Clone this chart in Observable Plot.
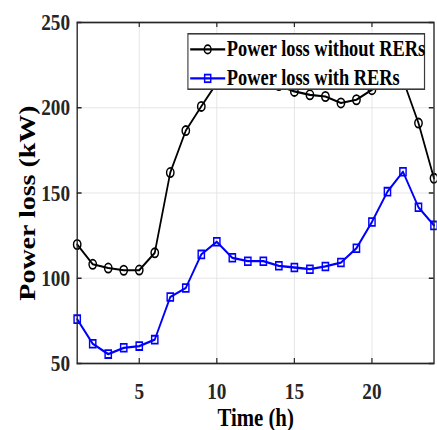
<!DOCTYPE html>
<html><head><meta charset="utf-8">
<script src="https://cdn.jsdelivr.net/npm/d3@7"></script>
<script src="https://cdn.jsdelivr.net/npm/@observablehq/plot@0.6"></script>
<style>
html,body{margin:0;padding:0;overflow:hidden;background:#fff;}
#wrap{position:relative;width:546px;height:430px;transform:scaleX(0.8);transform-origin:0 0;}
#legend{position:absolute;left:234px;top:33px;}
</style></head><body><div id="wrap"></div>
<script>
const hours = [1,2,3,4,5,6,7,8,9,10,11,12,13,14,15,16,17,18,19,20,21,22,23,24];
const lossWithout = [119.8,108.2,106,104.7,104.8,114.9,162,186.6,200.8,214.5,215,215,214,213,209.6,207.6,206.6,202.8,204.7,210.6,215,216.5,191,158.6];
const lossWith = [76,61.6,55.5,59.2,60.2,64,89,94.3,114,121.4,112,110,110,107.3,106.3,105.3,106.9,109.2,117.6,133,150.8,162.5,141.6,131];
const xTicks = [5,10,15,20];
const yTicks = [50,100,150,200,250];
const seriesNames = ["Power loss without RERs","Power loss with RERs"];
const xLabel = "Time (h)";
const yLabel = "Power loss (kW)";

const W=546,H=430,ML=96,MR=4,MT=22,MB=67;
const innerW=W-ML-MR, innerH=H-MT-MB;
const font = "'Liberation Serif','Times New Roman',serif";
const ink="#262626";
const blue="#0000ff";
const rowsA = hours.map((h,i)=>({h, v: lossWithout[i]}));
const rowsB = hours.map((h,i)=>({h, v: lossWith[i]}));

const chart = Plot.plot({
  width: W, height: H, marginLeft: ML, marginRight: MR, marginTop: MT, marginBottom: MB,
  style: {fontFamily: font, fontWeight: "bold", background: "white", color: "#262626"},
  x: {domain: [1,24], label: null},
  y: {domain: [50,250], label: null},
  marks: [
    Plot.gridX({ticks: xTicks, stroke: "#e2e2e2", strokeOpacity: 1, strokeWidth: 1}),
    Plot.gridY({ticks: yTicks.slice(1,-1), stroke: "#e2e2e2", strokeOpacity: 1, strokeWidth: 1}),
    Plot.line(rowsA, {x: "h", y: "v", stroke: "black", strokeWidth: 2.2}),
    Plot.dot(rowsA, {x: "h", y: "v", r: 4.6, stroke: "black", strokeWidth: 1.8, fill: "none"}),
    Plot.line(rowsB, {x: "h", y: "v", stroke: blue, strokeWidth: 2.3}),
    Plot.dot(rowsB, {x: "h", y: "v", symbol: "square", r: 4.4, stroke: blue, strokeWidth: 1.8, fill: "none"}),
    Plot.frame({stroke: ink, strokeWidth: 1.7}),
    Plot.tickX(xTicks, {x: d => d, insetTop: innerH - 5, stroke: ink, strokeWidth: 1.5}),
    Plot.tickX(xTicks, {x: d => d, insetBottom: innerH - 5, stroke: ink, strokeWidth: 1.5}),
    Plot.tickY(yTicks, {y: d => d, insetRight: innerW - 6, stroke: ink, strokeWidth: 1.5}),
    Plot.tickY(yTicks, {y: d => d, insetLeft: innerW - 6, stroke: ink, strokeWidth: 1.5}),
    Plot.axisX({ticks: xTicks, tickSize: 0, tickPadding: 18, fontSize: 24, label: null, fill: ink}),
    Plot.axisY({ticks: yTicks, tickSize: 0, tickPadding: 9, fontSize: 24, label: null, fill: ink}),
    Plot.text([xLabel], {frameAnchor: "bottom", textAnchor: "middle", lineAnchor: "middle", dy: 54, fontSize: 26, fontWeight: "bold", fill: "black"}),
    Plot.text([yLabel], {frameAnchor: "left", textAnchor: "middle", lineAnchor: "middle", rotate: -90, dx: -62, dy: 10, fontSize: 28, fontWeight: "bold", fill: "black"})
  ]
});
const wrap = document.getElementById("wrap");
wrap.appendChild(chart);

// legend
const LW = 297.5, LH = 57;
const lg = d3.create("svg").attr("id","legend").attr("width", LW).attr("height", LH)
  .style("font-family", font).style("font-weight","bold");
lg.append("rect").attr("x",0.8).attr("y",0.8).attr("width",LW-1.6).attr("height",LH-1.6)
  .attr("fill","white").attr("stroke","#3a3a3a").attr("stroke-width",1.6);
const rowsY = [16.4, 45.4];
const colors = ["black", blue];
seriesNames.forEach((name, i) => {
  const g = lg.append("g");
  g.append("line").attr("x1",3.75).attr("x2",47.5).attr("y1",rowsY[i]).attr("y2",rowsY[i])
    .attr("stroke",colors[i]).attr("stroke-width",2.3);
  if (i === 0) {
    g.append("circle").attr("cx",25.6).attr("cy",rowsY[i]).attr("r",4.2)
      .attr("fill","none").attr("stroke",colors[i]).attr("stroke-width",1.8);
  } else {
    g.append("rect").attr("x",25.6-3.8).attr("y",rowsY[i]-3.8).attr("width",7.6).attr("height",7.6)
      .attr("fill","none").attr("stroke",colors[i]).attr("stroke-width",1.8);
  }
  g.append("text").attr("x",49.6).attr("y",rowsY[i]+7).attr("font-size",23).attr("fill","black").text(name);
});
wrap.appendChild(lg.node());
</script>
</body></html>
